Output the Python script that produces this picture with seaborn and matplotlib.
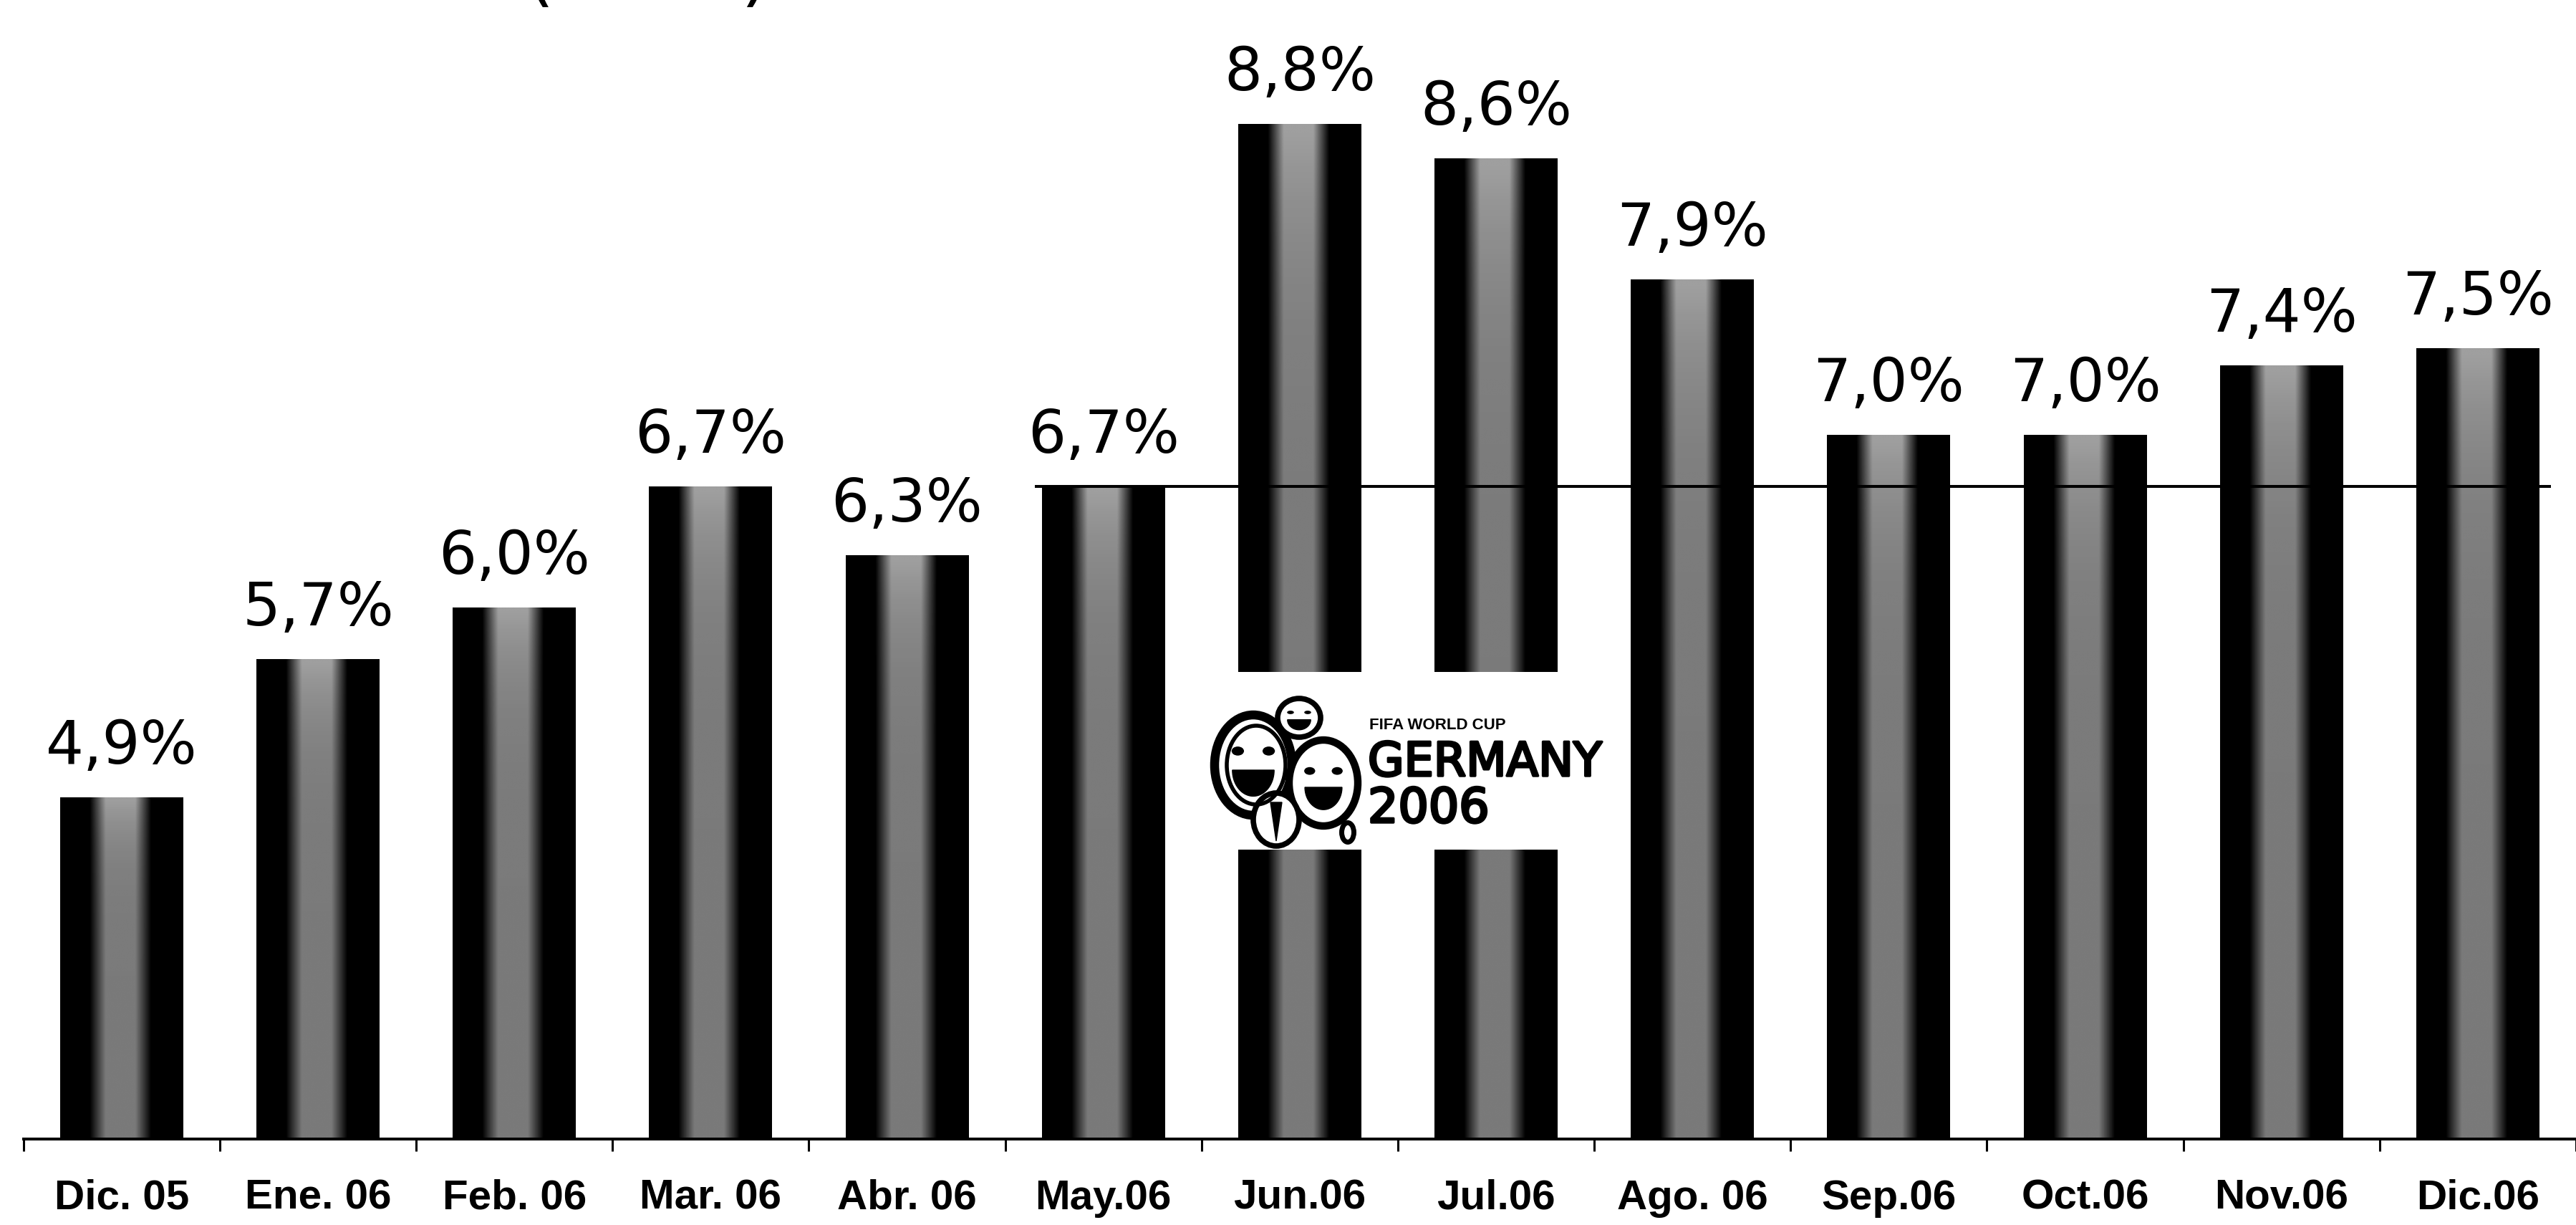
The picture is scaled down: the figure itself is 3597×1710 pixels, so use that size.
import numpy as np
import pandas as pd
import matplotlib
matplotlib.use("Agg")
import matplotlib.pyplot as plt
import matplotlib.patheffects as pe
from matplotlib.patches import Ellipse, Rectangle
import seaborn as sns

# Monthly share, Dec 2005 - Dec 2006
months = ["Dic. 05", "Ene. 06", "Feb. 06", "Mar. 06", "Abr. 06", "May.06",
          "Jun.06", "Jul.06", "Ago. 06", "Sep.06", "Oct.06", "Nov.06", "Dic.06"]
share = [4.9, 5.7, 6.0, 6.7, 6.3, 6.7, 8.8, 8.6, 7.9, 7.0, 7.0, 7.4, 7.5]
reference_month = "May.06"


def pct(v):
    return f"{v:.1f}%".replace(".", ",")


W, H, DPI = 3597, 1710, 100
BAR_W = 0.627
Y_LO, Y_HI = 2.92, 9.518

sns.set_theme(style="white")
plt.rcParams["font.family"] = ["DejaVu Sans"]

fig = plt.figure(figsize=(W / DPI, H / DPI), dpi=DPI)
fig.patch.set_facecolor("white")

left = 32.75 / W
bottom = (H - 1590) / H
ax = fig.add_axes([left, bottom, 1 - left, 1 - bottom])
ax.set_facecolor("white")

df = pd.DataFrame({"mes": months, "cuota": share})
sns.barplot(data=df, x="mes", y="cuota", order=months, color="black",
            saturation=1, width=BAR_W, ax=ax, zorder=2)

# cylinder-like shading: dark edges, grey core
px = np.linspace(0, 1, 300)
core = np.clip((0.25 - np.abs(px - 0.49)) / 0.13, 0, 1)
shade = 0.48 * core
rows = np.linspace(0, 1, 60)[:, None]
img = np.clip(shade[None, :] * (1 + 0.3 * rows ** 8), 0, 1)
for bar in list(ax.patches):
    x0, w, h = bar.get_x(), bar.get_width(), bar.get_height()
    im = ax.imshow(img, cmap="gray", vmin=0, vmax=1, origin="lower",
                   extent=[x0, x0 + w, Y_LO, h], aspect="auto",
                   interpolation="bilinear", zorder=2.1)
    im.set_clip_path(bar)

# value labels above bars
for i, v in enumerate(share):
    ax.annotate(pct(v), xy=(i, v), xytext=(0, 34), textcoords="offset points",
                ha="center", va="baseline", fontsize=60, color="black",
                family=["DejaVu Sans"])

# reference level: May value carried to the right
ri = months.index(reference_month)
ax.hlines(share[ri], ri - BAR_W / 2 - 0.035, len(months) - 1 + BAR_W / 2 + 0.06,
          color="black", lw=2.9, zorder=3)

ax.set_xlim(-0.5, -0.5 + (W - 32.75) / 274.5)
ax.set_ylim(Y_LO, Y_HI)

ax.set_xlabel("")
ax.set_ylabel("")
ax.yaxis.set_visible(False)
for s in ["left", "top", "right"]:
    ax.spines[s].set_visible(False)
ax.spines["bottom"].set_linewidth(2.9)
ax.spines["bottom"].set_color("black")
ax.spines["bottom"].set_zorder(4)

ax.set_xticks(range(len(months)))
ax.set_xticklabels(months, fontsize=42, fontweight="bold",
                   family=["Liberation Sans", "DejaVu Sans"])
ax.set_xticks(np.arange(-0.5, len(months), 1.0), minor=True)
ax.tick_params(axis="x", which="major", length=0, pad=40, colors="black")
ax.tick_params(axis="x", which="minor", length=12, width=2.2,
               direction="out", color="black", bottom=True)

# heading line, cut at the top edge
fig.text(733 / W, 1 + 3 / H, "(2006)", ha="left", va="baseline",
         fontsize=74, color="black")

# World Cup emblem over the June/July bars
bx0, bx1, by0, by1 = 1686, 2250, 938, 1186
lg = fig.add_axes([bx0 / W, (H - by1) / H, (bx1 - bx0) / W, (by1 - by0) / H])
lg.set_xlim(0, bx1 - bx0)
lg.set_ylim(by1 - by0, 0)
lg.axis("off")
lg.add_patch(Rectangle((0, 0), 1, 1, transform=lg.transAxes,
                       facecolor="white", edgecolor="none", zorder=0))


def face(cx, cy, w, h, ring=5.5, mouth=True, eyes=True):
    lg.add_patch(Ellipse((cx, cy), w, h, facecolor="white",
                         edgecolor="black", lw=ring, zorder=2))
    if eyes:
        for sx in (-1, 1):
            lg.add_patch(Ellipse((cx + sx * 0.2 * w, cy - 0.14 * h),
                                 0.16 * w, 0.09 * h, facecolor="black",
                                 edgecolor="none", zorder=3))
    if mouth:
        t = np.linspace(0, np.pi, 40)
        mx = cx + 0.27 * w * np.cos(t)
        my = cy + 0.05 * h + 0.26 * h * np.sin(t)
        lg.fill(mx, my, color="black", zorder=3)


face(64, 130, 108, 140, ring=9)
lg.add_patch(Ellipse((68, 130), 82, 110, facecolor="none",
                     edgecolor="black", lw=4, zorder=3))
face(162, 155, 96, 120, ring=7.5)
face(128, 64, 60, 54, ring=5.5)
face(96, 206, 64, 74, ring=5.5, eyes=False, mouth=False)
lg.fill([88, 104, 96], [182, 182, 236], color="black", zorder=3)
lg.add_patch(Ellipse((196, 224), 17, 27, facecolor="white",
                     edgecolor="black", lw=5, zorder=3))

thick = [pe.withStroke(linewidth=2.5, foreground="black")]
lg.text(226, 80, "FIFA WORLD CUP", ha="left", va="baseline", fontsize=16,
        fontweight="bold", family=["Liberation Sans", "DejaVu Sans"],
        color="black")
lg.text(224, 145, "GERMANY", ha="left", va="baseline", fontsize=47,
        color="black", path_effects=thick)
lg.text(224, 210, "2006", ha="left", va="baseline", fontsize=48,
        color="black", path_effects=thick)

fig.savefig("out.png", dpi=DPI, facecolor="white")
